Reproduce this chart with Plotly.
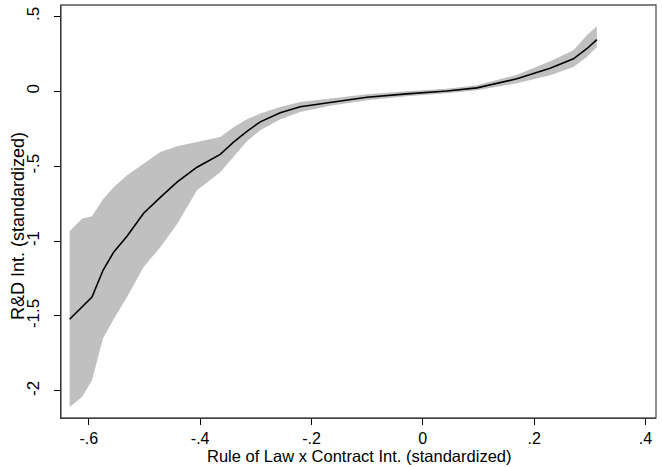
import plotly.graph_objects as go

# Data
x_vals = [-0.6345, -0.6123, -0.5943, -0.5745, -0.5555, -0.5314, -0.5016, -0.4716,
          -0.4416, -0.4057, -0.3639, -0.3400, -0.3159, -0.2920, -0.2561, -0.2202,
          -0.1663, -0.1004, -0.0286, 0.0433, 0.0972, 0.1690, 0.2288, 0.2707,
          0.2947, 0.3127]
fit_vals = [-1.522, -1.440, -1.373, -1.195, -1.075, -0.968, -0.814, -0.708,
            -0.607, -0.507, -0.421, -0.340, -0.267, -0.204, -0.144, -0.103,
            -0.073, -0.040, -0.017, 0.002, 0.023, 0.083, 0.154, 0.217,
            0.284, 0.345]
upper_vals = [-0.935, -0.851, -0.834, -0.721, -0.641, -0.561, -0.483, -0.405,
              -0.367, -0.340, -0.305, -0.240, -0.187, -0.149, -0.105, -0.071,
              -0.050, -0.020, 0.000, 0.017, 0.040, 0.110, 0.200, 0.274,
              0.374, 0.434]
lower_vals = [-2.107, -2.041, -1.929, -1.649, -1.522, -1.373, -1.173, -1.041,
              -0.888, -0.661, -0.541, -0.441, -0.334, -0.260, -0.187, -0.138,
              -0.097, -0.060, -0.033, -0.013, 0.007, 0.053, 0.107, 0.162,
              0.229, 0.296]

x_ticks = [-0.6, -0.4, -0.2, 0, 0.2, 0.4]
x_tick_labels = ["-.6", "-.4", "-.2", "0", ".2", ".4"]
y_ticks = [0.5, 0, -0.5, -1, -1.5, -2]
y_tick_labels = [".5", "0", "-.5", "-1", "-1.5", "-2"]

x_title = "Rule of Law x Contract Int. (standardized)"
y_title = "R&D Int. (standardized)"

FONT = "Liberation Sans, Arial, sans-serif"

fig = go.Figure()
fig.add_trace(go.Scatter(x=x_vals, y=upper_vals, mode="lines",
                         line=dict(width=0, color="#c0c0c0"),
                         showlegend=False, hoverinfo="skip"))
fig.add_trace(go.Scatter(x=x_vals, y=lower_vals, mode="lines",
                         line=dict(width=0, color="#c0c0c0"),
                         fill="tonexty", fillcolor="#c0c0c0",
                         showlegend=False, hoverinfo="skip"))
fig.add_trace(go.Scatter(x=x_vals, y=fit_vals, mode="lines",
                         line=dict(width=1.6, color="black"),
                         showlegend=False))

fig.add_shape(type="rect", xref="x domain", yref="y domain",
              x0=0, x1=1, y0=0, y1=1,
              line=dict(color="#555555", width=1.3), layer="above")

# axis titles as annotations for exact placement
fig.add_annotation(text=x_title, xref="paper", yref="paper", x=0.5, y=-0.092,
                   xanchor="center", yanchor="middle", showarrow=False,
                   font=dict(size=16.5, color="black"))
fig.add_annotation(text=y_title, xref="paper", yref="paper", x=-0.072, y=0.465,
                   xanchor="center", yanchor="middle", showarrow=False,
                   textangle=-90, font=dict(size=18, color="black"))

fig.update_layout(
    width=662, height=467,
    margin=dict(l=61, r=6, t=5, b=49),
    paper_bgcolor="white", plot_bgcolor="white",
    font=dict(family=FONT, size=16, color="black"),
    xaxis=dict(range=[-0.650, 0.419], tickvals=x_ticks, ticktext=x_tick_labels,
               showgrid=False, zeroline=False, showline=True, automargin=False,
               linecolor="black", linewidth=1.3,
               ticks="outside", ticklen=6, tickcolor="black", tickwidth=1.2,
               ticklabelstandoff=0,
               tickfont=dict(size=16)),
    yaxis=dict(range=[-2.181, 0.576], tickvals=y_ticks, ticktext=y_tick_labels,
               showgrid=False, zeroline=False, showline=True, automargin=False,
               linecolor="black", linewidth=1.3,
               ticks="outside", ticklen=6, tickcolor="black", tickwidth=1.2,
               tickangle=-90, ticklabelstandoff=8,
               tickfont=dict(size=17)),
)

fig.write_html("out.html", config={"displayModeBar": False},
               post_script="document.body.style.margin='0';document.body.style.padding='0';")
